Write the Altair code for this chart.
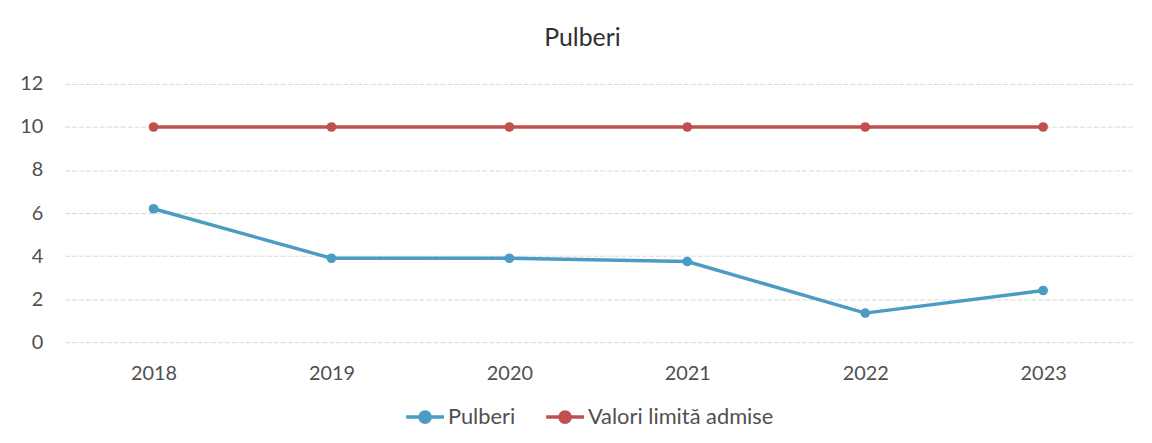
import altair as alt
import pandas as pd

years = ["2018", "2019", "2020", "2021", "2022", "2023"]
pulberi = [6.2, 3.9, 3.9, 3.75, 1.35, 2.4]
limita = [10, 10, 10, 10, 10, 10]
series_names = ["Pulberi", "Valori limită admise"]
colors = ["#4A9CC4", "#C0504D"]

rows = []
for y, v in zip(years, pulberi):
    rows.append({"An": y, "Serie": series_names[0], "Valoare": v})
for y, v in zip(years, limita):
    rows.append({"An": y, "Serie": series_names[1], "Valoare": v})
df = pd.DataFrame(rows)

FONT = "Lato"
TXT = "#505050"

color = alt.Color(
    "Serie:N",
    scale=alt.Scale(domain=series_names, range=colors),
    legend=alt.Legend(
        title=None,
        orient="none",
        direction="horizontal",
        legendX=342,
        legendY=314,
        symbolType="M-1,0H1M-0.27,0A0.27,0.27 0 1 1 0.27,0A0.27,0.27 0 1 1 -0.27,0",
        symbolSize=1444,
        symbolStrokeWidth=3.5,
        labelFontSize=22,
        labelFont=FONT,
        labelColor=TXT,
        labelOffset=2,
        labelLimit=500,
        columnPadding=24,
        symbolOffset=0,
    ),
)

x = alt.X(
    "An:N",
    sort=years,
    scale=alt.Scale(paddingInner=0, paddingOuter=0.5),
    axis=alt.Axis(
        title=None, labelAngle=0, domain=False, ticks=False, grid=False,
        labelPadding=22, labelFontSize=20, labelFont=FONT, labelColor=TXT,
    ),
)
y = alt.Y(
    "Valoare:Q",
    scale=alt.Scale(domain=[0, 12]),
    axis=alt.Axis(
        title=None, values=[0, 2, 4, 6, 8, 10, 12], domain=False, ticks=False,
        grid=True, gridColor="#D9D9D9", gridWidth=1, gridDash=[5, 2],
        labelPadding=22, labelFontSize=20, labelFont=FONT, labelColor=TXT,
    ),
)

base = alt.Chart(df).encode(x=x, y=y, color=color)
lines = base.mark_line(strokeWidth=3.5)
points = base.mark_point(filled=True, size=95, opacity=1)

chart = (
    alt.layer(lines, points)
    .properties(
        width=1075,
        height=260,
        background="white",
        autosize=alt.AutoSizeParams(type="none"),
        padding={"left": 57, "top": 75, "right": 12, "bottom": 92},
        title=alt.TitleParams(
            "Pulberi", fontSize=25, font=FONT, fontWeight="normal", color="#303030",
            offset=23, dx=-16,
        ),
    )
    .configure_view(strokeWidth=0, stroke=None)
)

chart.save("out.html", embed_options={"renderer": "svg", "actions": False})
